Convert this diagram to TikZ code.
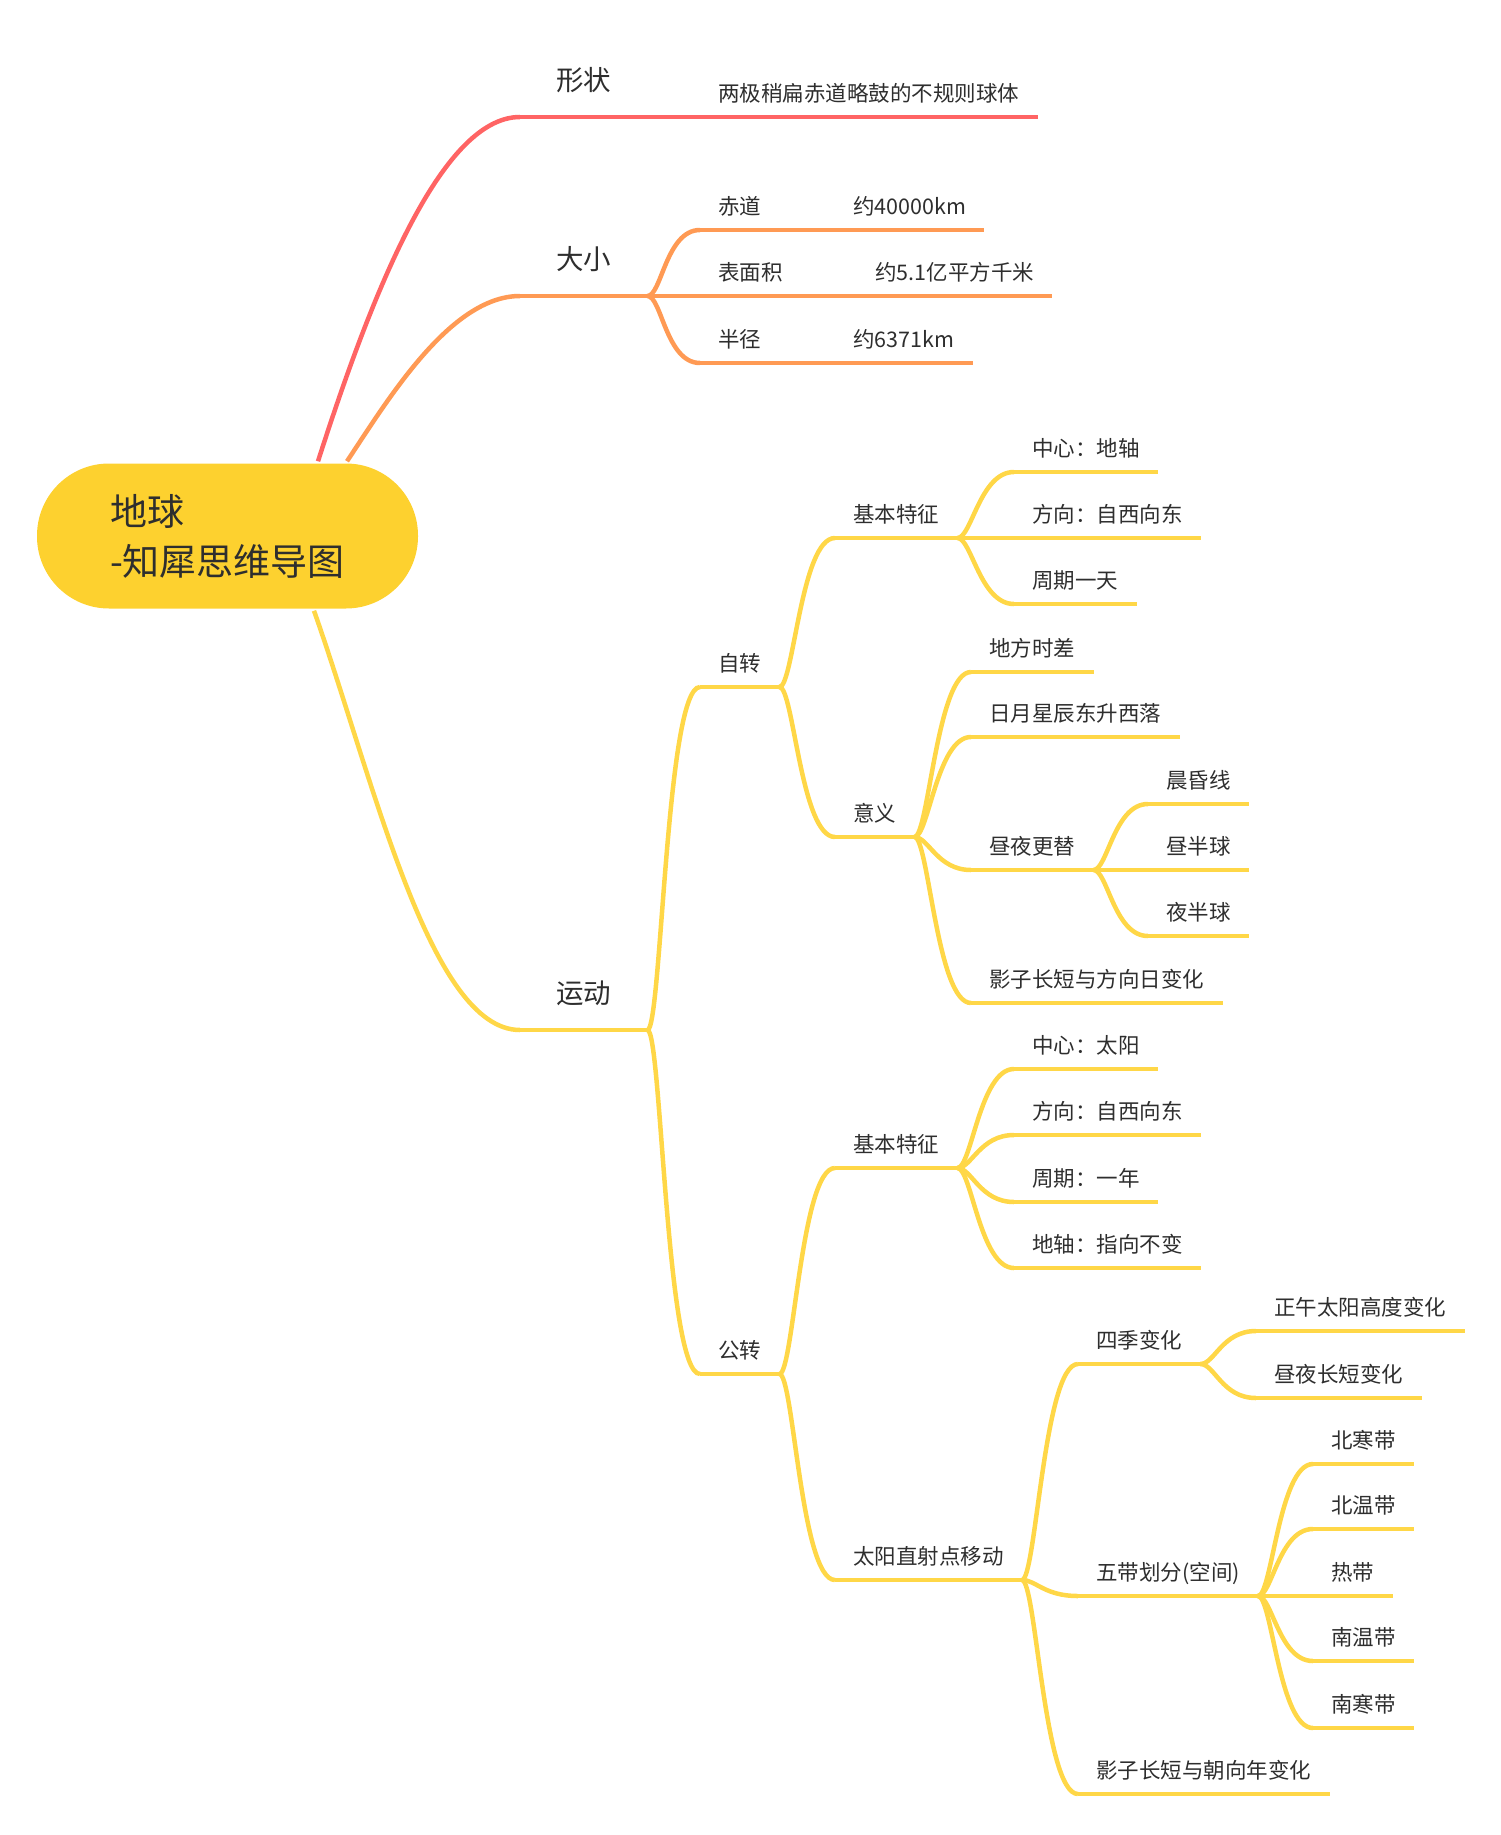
\documentclass[tikz,border=0pt]{standalone}
\usepackage{fontspec}
\setmainfont{Noto Sans CJK SC}
\definecolor{rootc}{HTML}{FDD12F}
\definecolor{redb}{HTML}{FF6464}
\definecolor{orangeb}{HTML}{FF9A54}
\definecolor{yellowb}{HTML}{FFD747}
\definecolor{txt}{HTML}{2E2E2E}
\begin{document}
\begin{tikzpicture}[x=0.5pt,y=-0.5pt,line width=2.25pt,
  root/.style={fill=rootc,rounded corners=36pt,minimum width=190.5pt,
    minimum height=72.5pt,inner sep=0pt,align=left,text=txt,
    font=\fontsize{18.5}{25}\selectfont},
  topic/.style={anchor=south west,inner xsep=8pt,inner ysep=6.5pt,
    text depth=0pt,text=txt,font=\fontsize{10.75}{13}\selectfont,
    append after command={(\tikzlastnode.south west) edge[draw=#1]
      (\tikzlastnode.south east)}},
  topic/.default=yellowb,
  major/.style={topic=#1,inner xsep=17pt,inner ysep=12.3pt,
    font=\fontsize{13.75}{16}\selectfont},
  major/.default=yellowb,
  branch/.style={to path={.. controls +(14,0) and +(-34,0) .. (\tikztotarget)}}]
  \useasboundingbox (0,0) rectangle (1500,1835);

  \node[root] (earth) at (227.5,536) {地球\\-知犀思维导图};

  % first level
  \node[major=redb] (shape) at (520,117) {形状};
  \node[major=orangeb] (size) at (520,296) {大小};
  \node[major] (motion) at (520,1030) {运动};

  \node[topic=redb] (shape1) at (700,117) {两极稍扁赤道略鼓的不规则球体};
  \node[topic=orangeb] (equator) at (700,230) {\makebox[67.5pt][l]{赤道}约40000km};
  \node[topic=orangeb] (surface) at (700,296) {\makebox[78.5pt][l]{表面积}约5.1亿平方千米};
  \node[topic=orangeb] (radius) at (700,363) {\makebox[67.5pt][l]{半径}约6371km};

  % rotation
  \node[topic] (rotation) at (700,687) {自转};
  \node[topic] (rfeat) at (835,538) {基本特征};
  \node[topic] (rcenter) at (1014,472) {中心：地轴};
  \node[topic] (rdir) at (1014,538) {方向：自西向东};
  \node[topic] (rperiod) at (1014,604) {周期一天};
  \node[topic] (rmean) at (835,837) {意义};
  \node[topic] (localtime) at (971,672) {地方时差};
  \node[topic] (sunrise) at (971,737) {日月星辰东升西落};
  \node[topic] (daynight) at (971,870) {昼夜更替};
  \node[topic] (terminator) at (1148,804) {晨昏线};
  \node[topic] (dayhemi) at (1148,870) {昼半球};
  \node[topic] (nighthemi) at (1148,936) {夜半球};
  \node[topic] (dshadow) at (971,1003) {影子长短与方向日变化};

  % revolution
  \node[topic] (revolution) at (700,1374) {公转};
  \node[topic] (vfeat) at (835,1168) {基本特征};
  \node[topic] (vcenter) at (1014,1069) {中心：太阳};
  \node[topic] (vdir) at (1014,1135) {方向：自西向东};
  \node[topic] (vperiod) at (1014,1202) {周期：一年};
  \node[topic] (vaxis) at (1014,1268) {地轴：指向不变};
  \node[topic] (subsolar) at (835,1580) {太阳直射点移动};
  \node[topic] (seasons) at (1078,1364) {四季变化};
  \node[topic] (noon) at (1256,1331) {正午太阳高度变化};
  \node[topic] (daylen) at (1256,1398) {昼夜长短变化};
  \node[topic] (zones) at (1078,1596) {五带划分(空间)};
  \node[topic] (nfrigid) at (1313,1464) {北寒带};
  \node[topic] (ntemp) at (1313,1529) {北温带};
  \node[topic] (tropic) at (1313,1596) {热带};
  \node[topic] (stemp) at (1313,1661) {南温带};
  \node[topic] (sfrigid) at (1313,1728) {南寒带};
  \node[topic] (yshadow) at (1078,1794) {影子长短与朝向年变化};

  % connectors
  \draw[redb] ([xshift=45.25pt]earth.north) .. controls +(52,-162) and +(-80,0) .. (shape.south west);
  \draw[orangeb] ([xshift=59.75pt]earth.north) .. controls +(40,-60) and +(-70,0) .. (size.south west);
  \draw[yellowb] ([xshift=43.25pt]earth.south) .. controls +(60,170) and +(-90,0) .. (motion.south west);

  \draw[redb] (shape.south east) to[branch] (shape1.south west);
  \draw[orangeb] (size.south east) edge[branch] (equator.south west)
    edge[branch] (surface.south west) edge[branch] (radius.south west);
  \draw[yellowb] (motion.south east) edge[branch] (rotation.south west)
    edge[branch] (revolution.south west);
  \draw[yellowb] (rotation.south east) edge[branch] (rfeat.south west)
    edge[branch] (rmean.south west);
  \draw[yellowb] (rfeat.south east) edge[branch] (rcenter.south west)
    edge[branch] (rdir.south west) edge[branch] (rperiod.south west);
  \draw[yellowb] (rmean.south east) edge[branch] (localtime.south west)
    edge[branch] (sunrise.south west) edge[branch] (daynight.south west)
    edge[branch] (dshadow.south west);
  \draw[yellowb] (daynight.south east) edge[branch] (terminator.south west)
    edge[branch] (dayhemi.south west) edge[branch] (nighthemi.south west);
  \draw[yellowb] (revolution.south east) edge[branch] (vfeat.south west)
    edge[branch] (subsolar.south west);
  \draw[yellowb] (vfeat.south east) edge[branch] (vcenter.south west)
    edge[branch] (vdir.south west) edge[branch] (vperiod.south west)
    edge[branch] (vaxis.south west);
  \draw[yellowb] (subsolar.south east) edge[branch] (seasons.south west)
    edge[branch] (zones.south west) edge[branch] (yshadow.south west);
  \draw[yellowb] (seasons.south east) edge[branch] (noon.south west)
    edge[branch] (daylen.south west);
  \draw[yellowb] (zones.south east) edge[branch] (nfrigid.south west)
    edge[branch] (ntemp.south west) edge[branch] (tropic.south west)
    edge[branch] (stemp.south west) edge[branch] (sfrigid.south west);
\end{tikzpicture}
\end{document}
